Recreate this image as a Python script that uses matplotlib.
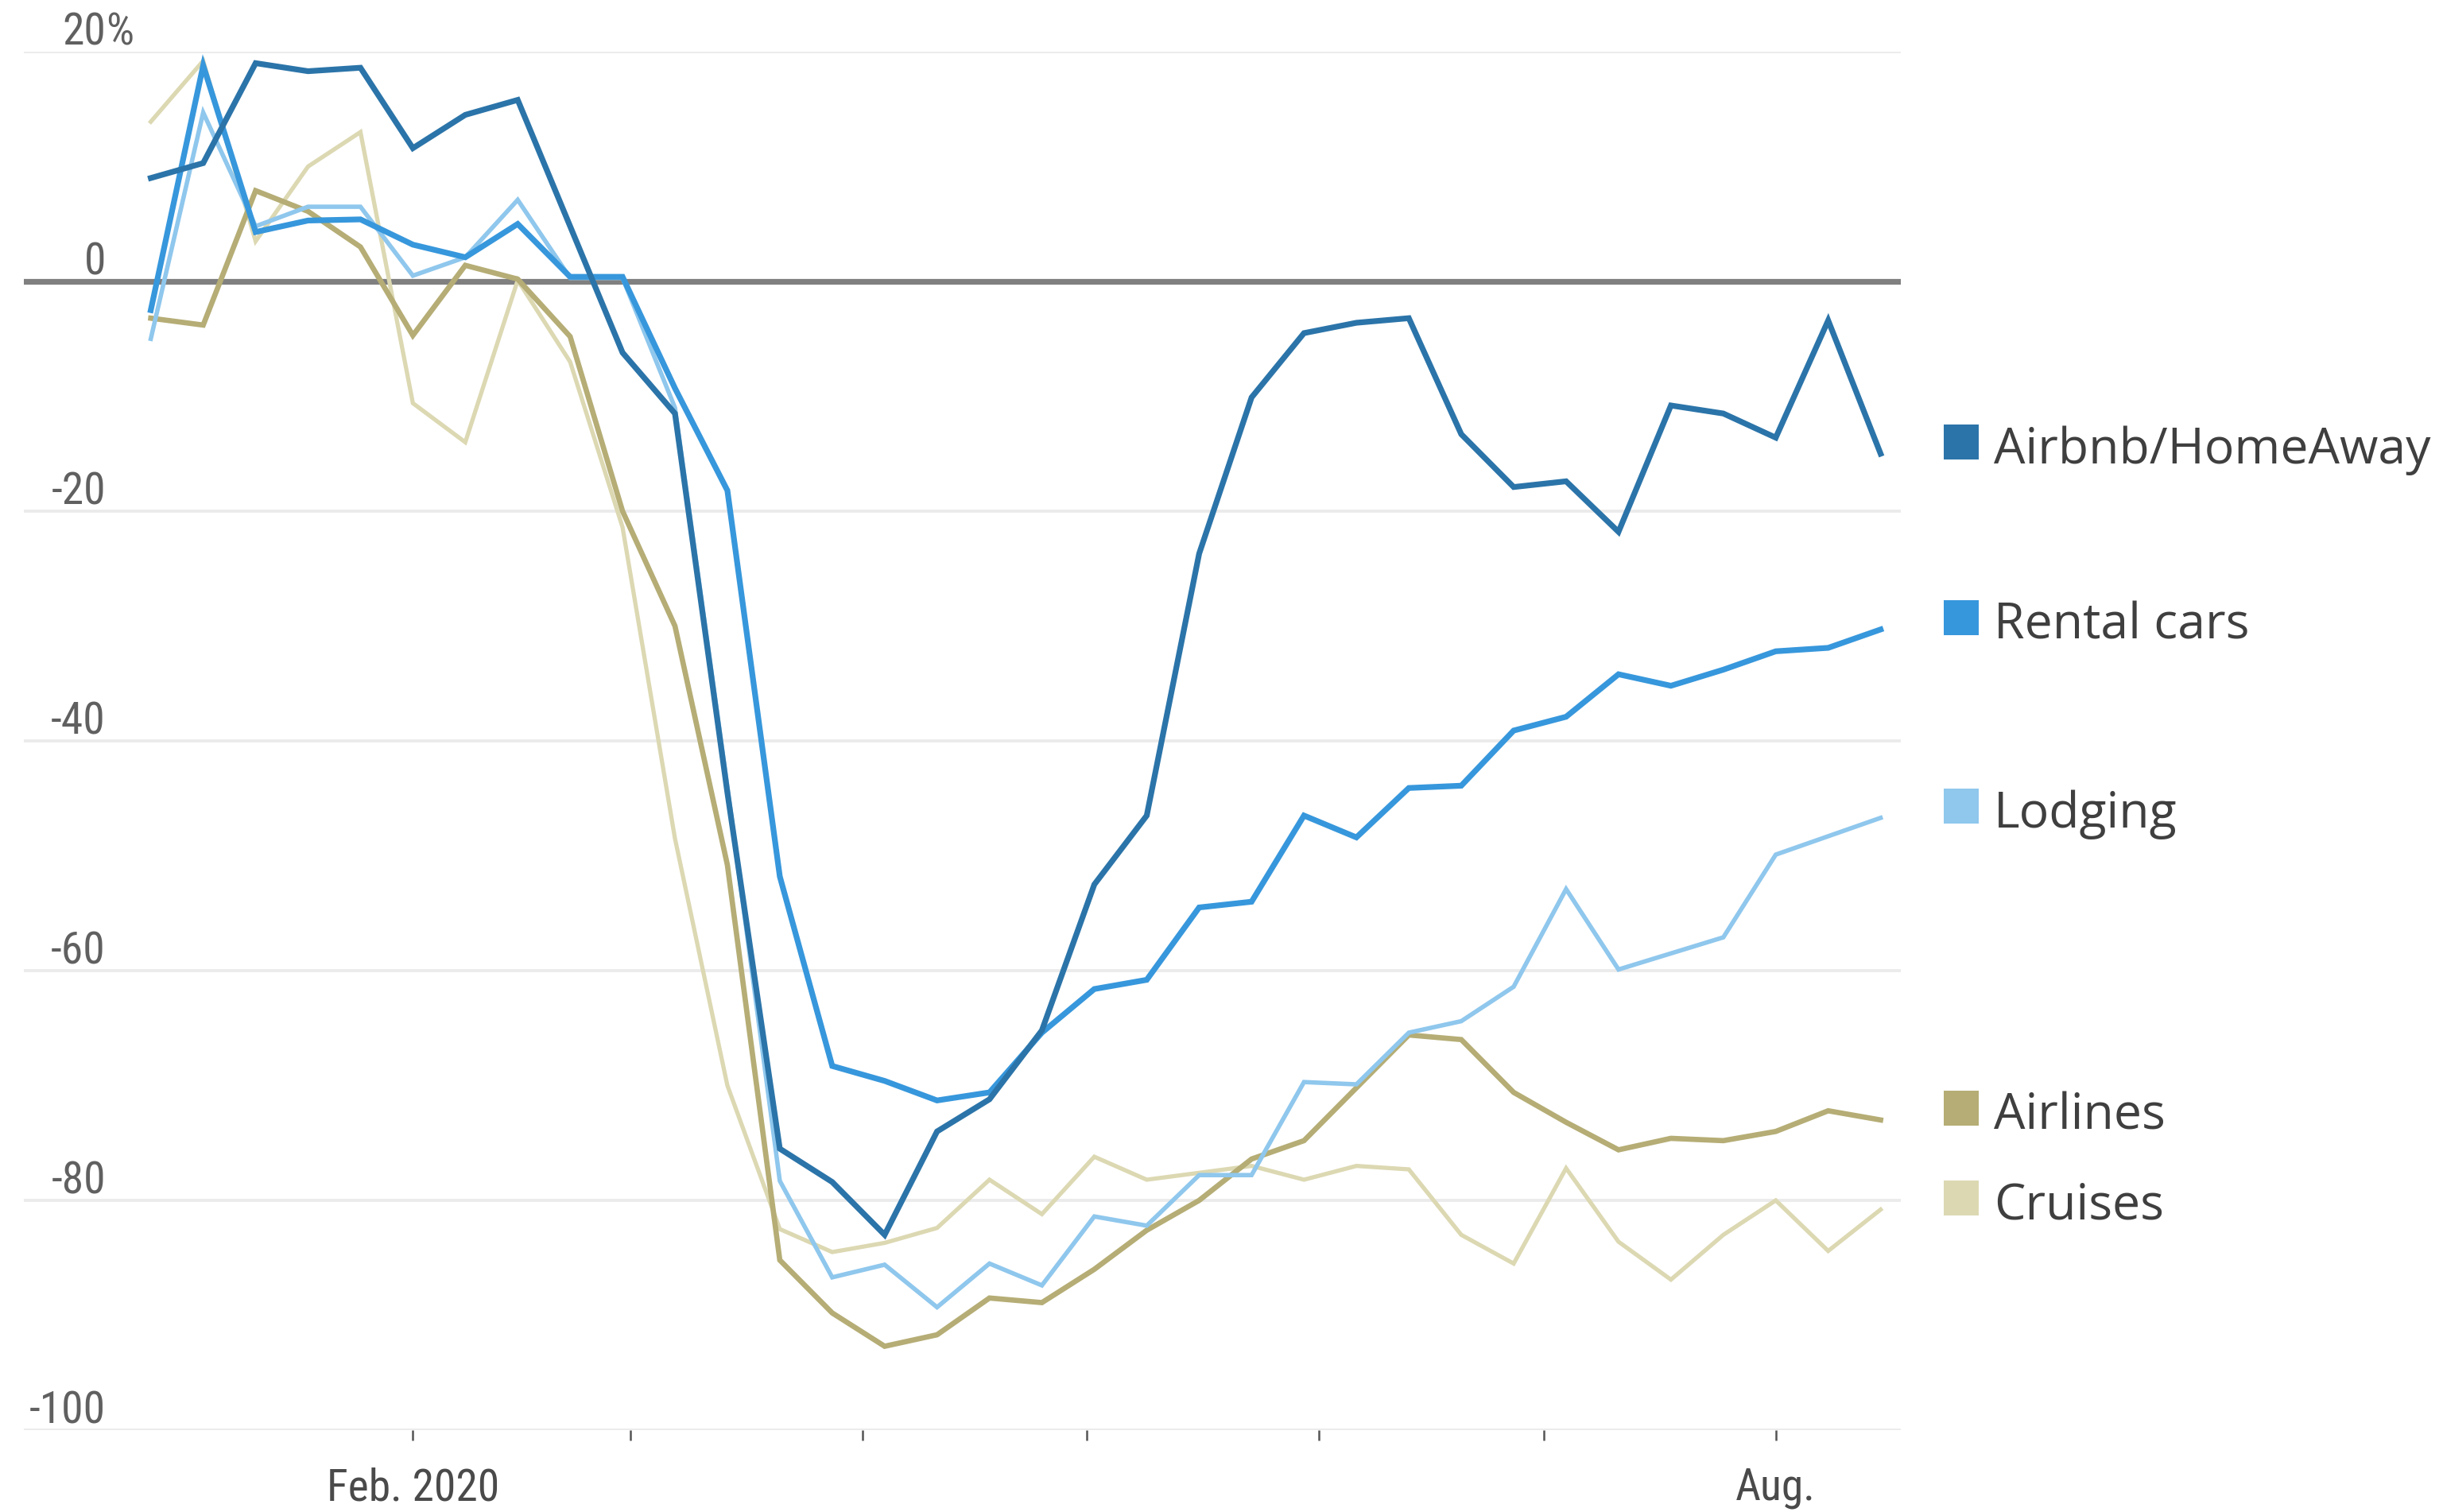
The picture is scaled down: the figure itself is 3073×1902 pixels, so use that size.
import datetime
import matplotlib
matplotlib.use("Agg")
import matplotlib.pyplot as plt
import matplotlib.dates as mdates
import matplotlib.transforms as mtransforms
import pandas as pd

# weekly readings, % change vs. a year earlier
startDate = "2019-12-28"
seriesNames = ["Airbnb/HomeAway", "Rental cars", "Lodging", "Airlines", "Cruises"]

airbnb = [9.0, 10.3, 19.0, 18.3, 18.6, 11.6, 14.5, 15.8, 4.8, -6.2,
          -11.5, -44.5, -75.5, -78.4, -83.0, -74.0, -71.2, -65.2, -52.5, -46.5,
          -23.7, -10.1, -4.5, -3.6, -3.2, -13.3, -17.9, -17.4, -21.8, -10.8,
          -11.5, -13.6, -3.4, -15.0]
rentalCars = [-2.5, 18.8, 4.3, 5.3, 5.4, 3.2, 2.1, 5.0, 0.4, 0.4,
              -9.3, -18.2, -51.8, -68.3, -69.6, -71.3, -70.6, -65.4, -61.6, -60.8,
              -54.5, -54.0, -46.5, -48.4, -44.1, -43.9, -39.1, -37.9, -34.2, -35.2,
              -33.8, -32.2, -31.9, -30.3]
lodging = [-5.0, 14.7, 4.8, 6.5, 6.5, 0.5, 2.1, 7.1, 0.3, 0.3,
           -11.0, -44.0, -78.3, -86.7, -85.6, -89.3, -85.5, -87.4, -81.4, -82.2,
           -77.8, -77.8, -69.7, -69.9, -65.4, -64.4, -61.4, -52.9, -59.9, -58.5,
           -57.1, -49.9, -48.3, -46.7]
airlines = [-3.2, -3.8, 7.9, 6.1, 3.0, -4.7, 1.4, 0.2, -4.8, -20.0,
            -30.0, -50.8, -85.2, -89.8, -92.7, -91.7, -88.5, -88.9, -86.0, -82.6,
            -80.0, -76.4, -74.8, -70.2, -65.6, -66.0, -70.6, -73.2, -75.6, -74.6,
            -74.8, -74.0, -72.2, -73.0]
cruises = [13.9, 19.2, 3.5, 10.0, 13.0, -10.6, -14.0, 0.1, -7.0, -21.4,
           -48.5, -70.0, -82.5, -84.5, -83.7, -82.4, -78.2, -81.2, -76.2, -78.2,
           -77.6, -77.0, -78.2, -77.0, -77.3, -83.0, -85.5, -77.2, -83.6, -86.9,
           -83.0, -80.0, -84.4, -80.8]

yTicks = [20, 0, -20, -40, -60, -80, -100]
yTickLabels = ["20", "0", "-20", "-40", "-60", "-80", "-100"]
monthTicks = ["2020-02-01", "2020-03-01", "2020-04-01", "2020-05-01",
              "2020-06-01", "2020-07-01", "2020-08-01"]
monthLabels = ["Feb. 2020", "", "", "", "", "", "Aug."]

colors = ["#2b74a9", "#3797dc", "#8fc7ed", "#b5ad75", "#dcd8b2"]
widths = [2.6, 2.6, 2.0, 2.4, 1.9]

narrow = ["Liberation Sans Narrow", "Roboto Condensed", "Liberation Sans", "DejaVu Sans"]
legendFont = ["Open Sans", "Noto Sans", "DejaVu Sans"]

dates = pd.date_range(startDate, periods=len(airbnb), freq="7D")
allSeries = [airbnb, rentalCars, lodging, airlines, cruises]

W, H, DPI = 3073, 1902, 200
fig = plt.figure(figsize=(W / DPI, H / DPI), dpi=DPI)
ax = fig.add_axes([30 / W, 1 - 1799 / H, (2391 - 30) / W, (1799 - 65) / H])

ax.set_ylim(-100, 20)
feb1 = mdates.date2num(datetime.datetime(2020, 2, 1))
ax.set_xlim(feb1 - 51.95, feb1 + 198.7)

for s in ax.spines.values():
    s.set_visible(False)

# gridlines
for v in yTicks:
    if v == 0:
        ax.axhline(v, color="#808080", lw=2.6, zorder=2)
    else:
        ax.axhline(v, color="#ebebeb", lw=1.4, zorder=1)

# y labels sit just above their gridline
labelTrans = mtransforms.blended_transform_factory(ax.transAxes, ax.transData)
for v, lab in zip(yTicks, yTickLabels):
    ax.annotate(lab, xy=(0.0436, v), xycoords=labelTrans, xytext=(0, 3),
                textcoords="offset points", ha="right", va="baseline",
                fontsize=20, color="#606060", family=narrow)
ax.annotate("%", xy=(0.0436, yTicks[0]), xycoords=labelTrans, xytext=(0, 3),
            textcoords="offset points", ha="left", va="baseline",
            fontsize=20, color="#606060", family=narrow)

ax.set_yticks([])
ax.set_xticks([mdates.date2num(pd.Timestamp(d)) for d in monthTicks])
ax.set_xticklabels(monthLabels, family=narrow, fontsize=20, color="#4a4a4a")
ax.tick_params(axis="x", direction="out", length=4.7, width=0.9,
               color="#555555", pad=12)

# series, lightest underneath
for i in reversed(range(len(allSeries))):
    ax.plot(dates, allSeries[i], color=colors[i], lw=widths[i],
            solid_joinstyle="miter", zorder=3 + (len(allSeries) - i),
            clip_on=False)

# labels at the right, a touch above each line's last reading
for name, vals, c in zip(seriesNames, allSeries, colors):
    labelY = vals[-1] + 1.0
    ax.plot([1.0322], [labelY], marker="s", ms=15.8, color=c,
            transform=labelTrans, clip_on=False, markeredgewidth=0)
    ax.annotate(name, xy=(1.0494, labelY), xycoords=labelTrans,
                xytext=(0, -1.0), textcoords="offset points",
                ha="left", va="center_baseline", fontsize=22.5,
                color="#3f3f3f", family=legendFont, annotation_clip=False)

fig.savefig("out.png", dpi=DPI, facecolor="white")
